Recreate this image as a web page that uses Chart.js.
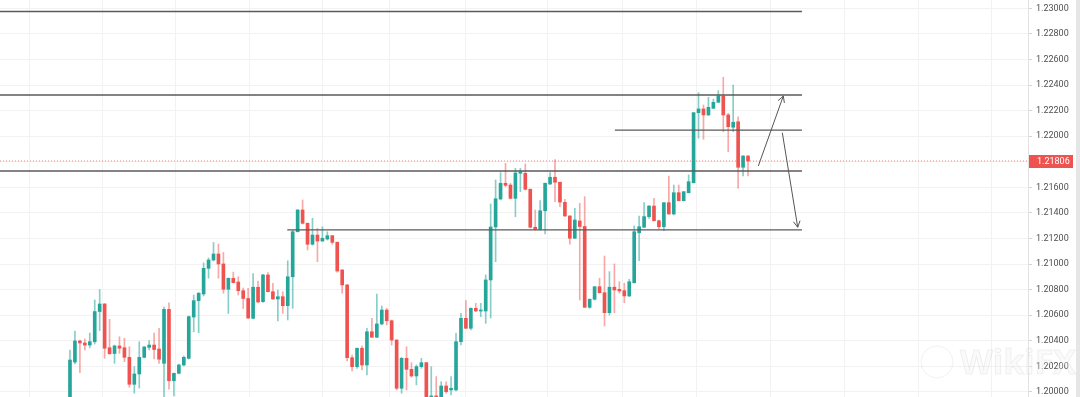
<!DOCTYPE html>
<html>
<head>
<meta charset="utf-8">
<script src="https://cdn.jsdelivr.net/npm/chart.js@4/dist/chart.umd.min.js"></script>
<style>
html,body{margin:0;padding:0;background:#fff;overflow:hidden}
#wrap{width:1080px;height:397px;position:relative}
canvas{display:block}
</style>
</head>
<body>
<div id="wrap"><canvas id="c" width="1080" height="397"></canvas></div>
<script>
// ---- candle data ----
const open = [
1.19898,1.20234,1.20399,1.20383,1.20367,1.20393,1.20629,1.20688,1.20346,1.20301,
1.20360,1.20346,1.20271,1.20060,1.20141,1.20271,1.20349,1.20367,1.20336,1.20224,
1.20646,1.20088,1.20146,1.20211,1.20263,1.20586,1.20714,1.20766,1.20967,1.21032,
1.21079,1.21001,1.20803,1.20889,1.20860,1.20792,1.20731,1.20576,1.20819,1.20706,
1.20915,1.20784,1.20727,1.20745,1.20675,1.20901,1.21253,1.21423,1.21319,1.21155,
1.21227,1.21180,1.21196,1.21222,1.21170,1.20954,1.20837,1.20268,1.20198,1.20342,
1.20211,1.20471,1.20428,1.20532,1.20641,1.20557,1.20406,1.20029,1.20263,1.20177,
1.20125,1.20198,1.20229,1.19961,1.19969,1.19953,1.20047,1.20016,1.20016,1.20393,
1.20576,1.20498,1.20654,1.20633,1.20633,1.20876,1.21290,1.21509,1.21632,1.21618,
1.21514,1.21710,1.21710,1.21585,1.21288,1.21272,1.21417,1.21626,1.21679,1.21640,
1.21483,1.21376,1.21202,1.21337,1.21294,1.20662,1.20725,1.20823,1.20776,1.20620,
1.20819,1.20803,1.20792,1.20751,1.20854,1.21245,1.21288,1.21371,1.21454,1.21339,
1.21292,1.21480,1.21392,1.21558,1.21496,1.21558,1.21636,1.22184,1.22213,1.22166,
1.22218,1.22265,1.22314,1.22166,1.22070,1.22113,1.21757,1.21845
];
const high = [
1.20328,1.20477,1.20406,1.20414,1.20461,1.20719,1.20801,1.20692,1.20568,1.20367,
1.20432,1.20420,1.20354,1.20198,1.20393,1.20356,1.20401,1.20461,1.20498,1.20664,
1.20698,1.20148,1.20219,1.20281,1.20594,1.20758,1.20778,1.21009,1.21048,1.21169,
1.21157,1.21091,1.20891,1.20937,1.20901,1.20813,1.20811,1.20926,1.20868,1.20919,
1.20933,1.20850,1.20797,1.20784,1.21026,1.21263,1.21427,1.21501,1.21323,1.21358,
1.21280,1.21292,1.21253,1.21225,1.21175,1.20958,1.20840,1.20289,1.20344,1.20360,
1.20498,1.20576,1.20766,1.20672,1.20654,1.20563,1.20410,1.20271,1.20354,1.20229,
1.20211,1.20263,1.20232,1.20198,1.20120,1.20080,1.20080,1.20120,1.20459,1.20615,
1.20715,1.20657,1.20693,1.20693,1.20915,1.21470,1.21658,1.21715,1.21788,1.21632,
1.21749,1.21749,1.21783,1.21587,1.21423,1.21496,1.21634,1.21715,1.21818,1.21642,
1.21507,1.21379,1.21436,1.21475,1.21527,1.20727,1.20825,1.20889,1.21063,1.20941,
1.21001,1.20862,1.20850,1.20881,1.21298,1.21376,1.21480,1.21458,1.21514,1.21345,
1.21482,1.21689,1.21618,1.21618,1.21568,1.21697,1.22185,1.22340,1.22244,1.22304,
1.22289,1.22356,1.22461,1.22179,1.22400,1.22152,1.21849,1.21849
];
const low = [
1.19875,1.20219,1.20151,1.20328,1.20346,1.20375,1.20479,1.20263,1.20295,1.20224,
1.20302,1.20237,1.20037,1.19990,1.20031,1.20266,1.20328,1.20258,1.20224,1.19963,
1.20021,1.19969,1.20141,1.20203,1.20258,1.20471,1.20464,1.20751,1.20889,1.21024,
1.20889,1.20772,1.20614,1.20852,1.20758,1.20653,1.20576,1.20571,1.20696,1.20700,
1.20782,1.20723,1.20555,1.20615,1.20563,1.20654,1.21251,1.21313,1.21110,1.21149,
1.21019,1.21177,1.21188,1.21155,1.20936,1.20772,1.20242,1.20164,1.20185,1.20172,
1.20133,1.20426,1.20424,1.20524,1.20524,1.20367,1.20016,1.19990,1.20016,1.20115,
1.20055,1.20185,1.19953,1.19945,1.19945,1.19945,1.19990,1.19976,1.20008,1.20367,
1.20496,1.20485,1.20629,1.20589,1.20537,1.20578,1.21019,1.21501,1.21605,1.21509,
1.21371,1.21566,1.21579,1.21282,1.21266,1.21266,1.21235,1.21622,1.21488,1.21449,
1.21372,1.21155,1.21199,1.20719,1.20661,1.20654,1.20719,1.20774,1.20516,1.20602,
1.20620,1.20772,1.20698,1.20745,1.20852,1.21026,1.21286,1.21358,1.21337,1.21274,
1.21261,1.21388,1.21384,1.21493,1.21493,1.21556,1.21634,1.21984,1.21976,1.22162,
1.22216,1.22264,1.22035,1.21879,1.22035,1.21593,1.21689,1.21689
];
const close = [
1.20250,1.20399,1.20383,1.20367,1.20393,1.20629,1.20688,1.20342,1.20299,1.20360,
1.20342,1.20271,1.20060,1.20141,1.20271,1.20352,1.20367,1.20332,1.20256,1.20646,
1.20088,1.20146,1.20211,1.20271,1.20589,1.20714,1.20772,1.20967,1.21032,1.21079,
1.21001,1.20803,1.20889,1.20855,1.20792,1.20731,1.20578,1.20819,1.20704,1.20915,
1.20784,1.20727,1.20745,1.20675,1.20901,1.21253,1.21423,1.21319,1.21155,1.21227,
1.21180,1.21202,1.21222,1.21170,1.20946,1.20837,1.20268,1.20198,1.20342,1.20211,
1.20471,1.20428,1.20532,1.20641,1.20557,1.20406,1.20029,1.20263,1.20177,1.20125,
1.20198,1.20229,1.19961,1.19969,1.19961,1.20047,1.20002,1.20029,1.20393,1.20576,
1.20498,1.20654,1.20633,1.20641,1.20876,1.21290,1.21511,1.21632,1.21616,1.21514,
1.21712,1.21722,1.21585,1.21288,1.21272,1.21417,1.21632,1.21679,1.21640,1.21485,
1.21376,1.21202,1.21345,1.21294,1.20662,1.20725,1.20823,1.20776,1.20620,1.20819,
1.20797,1.20790,1.20751,1.20862,1.21253,1.21292,1.21371,1.21454,1.21339,1.21292,
1.21480,1.21392,1.21558,1.21496,1.21566,1.21644,1.22184,1.22213,1.22166,1.22226,
1.22265,1.22314,1.22166,1.22074,1.22109,1.21757,1.21845,1.21806
];

// price-axis tick labels
const priceTicks = [1.20000,1.20200,1.20400,1.20600,1.20800,1.21000,1.21200,1.21400,
                    1.21600,1.21800,1.22000,1.22200,1.22400,1.22600,1.22800,1.23000];
// time grid (bar index positions of the vertical grid lines)
const timeGrid = [-0.8,13.9,28.9,43.8,58.2,70.9,89.1,103.9,119.2,134.0,149.1,164.0,178.8];

// drawn horizontal levels: price, start bar index, end bar index
const levelPrice = [1.22975,1.22322,1.22048,1.21728,1.21267];
const levelFrom  = [-14.2,-14.2,110.1,-14.2,43.9];
const levelTo    = [147.9,147.9,147.9,147.9,147.9];

// drawn arrows: start/end bar index and price
const arrowX1 = [139.08,143.93];
const arrowY1 = [1.21767,1.22027];
const arrowX2 = [144.13,147.04];
const arrowY2 = [1.22314,1.21288];

const lastPrice = 1.21806;

// ---- styling ----
const UP = '#26a69a', DN = '#ef5350';
const UPW = 'rgba(38,166,154,0.55)', DNW = 'rgba(239,83,80,0.5)';
const X_MIN = -14.14, X_MAX = 193.57;
const Y_MIN = 1.199607, Y_MAX = 1.230649;

const idx = open.map((_, i) => i);
const up = idx.map(i => close[i] >= open[i]);

const datasets = [];
levelPrice.forEach((p, k) => {
  datasets.push({
    type: 'line', data: [{x: levelFrom[k], y: p}, {x: levelTo[k], y: p}],
    borderColor: '#5a5a5a', borderWidth: 1.3, pointRadius: 0, order: 0
  });
});
datasets.push({
  type: 'line', data: [{x: X_MIN, y: lastPrice}, {x: X_MAX, y: lastPrice}],
  borderColor: 'rgba(239,83,80,0.7)', borderWidth: 1, borderDash: [1, 2],
  pointRadius: 0, order: 1
});
arrowX1.forEach((x, k) => {
  datasets.push({
    type: 'line', data: [{x: x, y: arrowY1[k]}, {x: arrowX2[k], y: arrowY2[k]}],
    borderColor: '#555', borderWidth: 1, pointRadius: 0, order: 0
  });
});
datasets.push({
  type: 'bar', data: idx.map(i => ({x: i, y: [low[i], high[i]]})),
  backgroundColor: up.map(u => u ? UPW : DNW), barThickness: 1,
  grouped: false, minBarLength: 1, order: 4
});
datasets.push({
  type: 'bar', data: idx.map(i => ({x: i, y: [open[i], close[i]]})),
  backgroundColor: up.map(u => u ? UP : DN), barThickness: 3,
  grouped: false, minBarLength: 1, order: 3
});

const overlay = {
  id: 'overlay',
  afterDatasetsDraw(chart) {
    const ctx = chart.ctx, xs = chart.scales.x, ys = chart.scales.y;
    ctx.save();
    ctx.strokeStyle = '#555'; ctx.lineWidth = 1;
    arrowX1.forEach((x, k) => {
      const x1 = xs.getPixelForValue(x), y1 = ys.getPixelForValue(arrowY1[k]);
      const x2 = xs.getPixelForValue(arrowX2[k]), y2 = ys.getPixelForValue(arrowY2[k]);
      const a = Math.atan2(y2 - y1, x2 - x1), L = 7, s = 0.5;
      ctx.beginPath();
      ctx.moveTo(x2 - L * Math.cos(a - s), y2 - L * Math.sin(a - s));
      ctx.lineTo(x2, y2);
      ctx.lineTo(x2 - L * Math.cos(a + s), y2 - L * Math.sin(a + s));
      ctx.stroke();
    });
    ctx.restore();
  },
  afterDraw(chart) {
    const ctx = chart.ctx, ys = chart.scales.y, ca = chart.chartArea;
    ctx.save();
    // watermark
    ctx.lineWidth = 1;
    ctx.strokeStyle = 'rgba(0,0,0,0.06)';
    ctx.fillStyle = 'rgba(240,240,240,0.3)';
    ctx.beginPath(); ctx.arc(937, 362, 16, 0, Math.PI * 2); ctx.stroke();
    ctx.font = 'bold 34px "Open Sans", sans-serif';
    ctx.textBaseline = 'middle'; ctx.textAlign = 'left';
    ctx.fillText('WikiFX', 960, 364);
    ctx.strokeText('WikiFX', 960, 364);
    // price label
    const y = Math.round(ys.getPixelForValue(lastPrice));
    ctx.fillStyle = DN;
    ctx.fillRect(ca.right + 1, y - 6, 44, 13);
    ctx.fillStyle = '#fff';
    ctx.font = '9px Roboto, sans-serif';
    ctx.textAlign = 'left'; ctx.textBaseline = 'middle';
    ctx.fillText(lastPrice.toFixed(5), ca.right + 9, y + 0.5);
    // right edge strip
    ctx.fillStyle = '#e6e6e6';
    ctx.fillRect(1076, 0, 4, 397);
    ctx.restore();
  }
};

new Chart(document.getElementById('c'), {
  type: 'bar',
  data: { datasets },
  options: {
    responsive: false, animation: false, devicePixelRatio: 1,
    layout: { padding: 0 },
    plugins: { legend: { display: false }, tooltip: { enabled: false } },
    scales: {
      x: {
        type: 'linear', min: X_MIN, max: X_MAX, offset: false,
        afterBuildTicks: s => { s.ticks = timeGrid.map(v => ({ value: v })); },
        afterFit: s => { s.height = 0; s.paddingLeft = 0; s.paddingRight = 0; },
        ticks: { display: false },
        grid: { color: '#f2f2f2', drawTicks: false },
        border: { display: false }
      },
      y: {
        position: 'right', min: Y_MIN, max: Y_MAX,
        afterBuildTicks: s => { s.ticks = priceTicks.map(v => ({ value: v })); },
        afterFit: s => { s.width = 52; s.paddingTop = 0; s.paddingBottom = 0; },
        ticks: {
          callback: v => Number(v).toFixed(5),
          color: '#505050', font: { family: 'Roboto, sans-serif', size: 9 }, padding: 4
        },
        grid: { color: '#f2f2f2', tickLength: 4, tickColor: '#d5d5d5' },
        border: { color: '#e2e2e2' }
      }
    }
  },
  plugins: [overlay]
});
</script>
</body>
</html>
